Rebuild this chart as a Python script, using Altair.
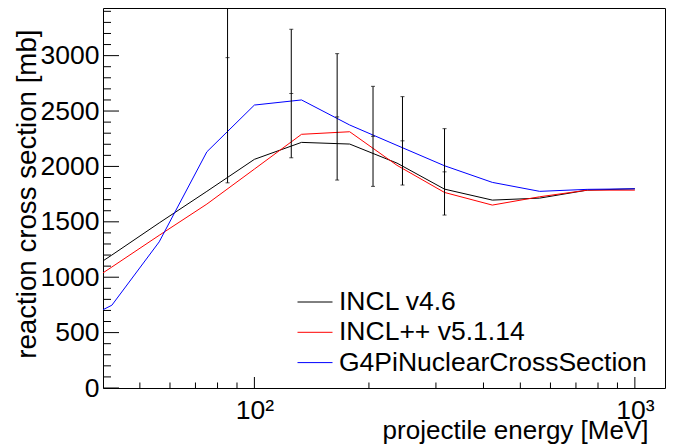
import altair as alt
import pandas as pd

# ---- data ----
energy = [31.6, 42.2, 56.2, 75.0, 100, 133, 178, 237, 316, 422, 562, 750, 1000]
incl46 = [915, 1200, 1490, 1775, 2064, 2217, 2202, 2030, 1795, 1696, 1714, 1786, 1798]
inclpp = [807, 1092, 1378, 1660, 1976, 2290, 2313, 2010, 1765, 1651, 1726, 1786, 1786]
g4pi = [530, 747, 1319, 2132, 2554, 2600, 2374, 2190, 2006, 1856, 1775, 1793, 1798]
models = ["INCL v4.6", "INCL++ v5.1.14", "G4PiNuclearCrossSection"]
colors = ["#000000", "#ff0000", "#0000ff"]

exp_energy = [85, 125, 165, 205, 245, 316]
exp_value = [2982, 2658, 2447, 2272, 2231, 1951]
exp_low = [1852, 2078, 1877, 1820, 1832, 1561]
exp_high = [4112, 3238, 3018, 2723, 2630, 2341]

x_major = [100, 1000]
x_minor = [50, 60, 70, 80, 90, 200, 300, 400, 500, 600, 700, 800, 900]
y_major = [0, 500, 1000, 1500, 2000, 2500, 3000]
y_minor = [v for v in range(100, 3500, 100) if v % 500 != 0]

X_TITLE = "projectile energy [MeV]"
Y_TITLE = "reaction cross section [mb]"

FONT = "Liberation Sans"
FS = 26.5
W, H = 562, 380

rows = []
for name, vals in zip(models, [incl46, inclpp, g4pi]):
    for i, (e, v) in enumerate(zip(energy, vals)):
        rows.append({"energy": e, "value": v, "model": name, "idx": i})
lines_df = pd.DataFrame(rows)
exp_df = pd.DataFrame({"energy": exp_energy, "value": exp_value,
                       "low": exp_low, "high": exp_high})

xscale = alt.Scale(type="log", domain=[40, 1200], nice=False)
yscale = alt.Scale(domain=[0, 3430], nice=False, zero=False)

x_axis = alt.Axis(values=x_major,
                  labelExpr="datum.value == 100 ? '10²' : '10³'",
                  labelFont=FONT, labelFontSize=FS, labelColor="#000",
                  labelBaseline="alphabetic", labelPadding=30,
                  labelFlush=False, labelOverlap=False, labelBound=False,
                  ticks=False, tickSize=0, domain=False, grid=False,
                  titleFont=FONT, titleFontSize=26, titleFontWeight="normal",
                  titleColor="#000", titleAlign="right",
                  titleBaseline="alphabetic", titleX=545, titleY=50)
y_axis = alt.Axis(values=y_major, format="d",
                  labelFont=FONT, labelFontSize=FS, labelColor="#000",
                  labelBaseline="middle", labelAlign="right", labelPadding=4,
                  labelFlush=False, labelOverlap=False, labelBound=False,
                  ticks=False, tickSize=0, domain=False, grid=False,
                  titleFont=FONT, titleFontSize=27.7, titleFontWeight="normal",
                  titleColor="#000", titleAngle=270, titleAlign="right",
                  titleBaseline="alphabetic", titleX=-68, titleY=21)


def X(field):
    return alt.X(field, scale=xscale, axis=x_axis, title=X_TITLE)


def Y(field):
    return alt.Y(field, scale=yscale, axis=y_axis, title=Y_TITLE)


lines = alt.Chart(lines_df).mark_line(strokeWidth=1, clip=True).encode(
    x=X("energy:Q"),
    y=Y("value:Q"),
    color=alt.Color("model:N", sort=models,
                    scale=alt.Scale(domain=models, range=colors),
                    legend=alt.Legend(orient="none", legendX=194, legendY=281,
                                      title=None, symbolType="stroke",
                                      symbolSize=1225, symbolStrokeWidth=1,
                                      clipHeight=26, rowPadding=3.3, padding=0,
                                      labelFont=FONT, labelFontSize=FS,
                                      labelColor="#000", labelOffset=6,
                                      labelLimit=0, labelBaseline="middle")),
    order=alt.Order("idx:Q"),
)

bars = alt.Chart(exp_df).mark_rule(color="#000", strokeWidth=1, clip=True).encode(
    x=X("energy:Q"),
    y=Y("low:Q"),
    y2="high:Q",
)


def caps(field):
    return alt.Chart(exp_df).mark_tick(color="#000", orient="horizontal", size=4,
                                       thickness=1, clip=True).encode(
        x=X("energy:Q"), y=Y(field))


def xticks(vals, length):
    return alt.Chart(pd.DataFrame({"t": vals})).mark_rule(color="#000", strokeWidth=1).encode(
        x=X("t:Q"), y=alt.value(H), y2=alt.value(H - length))


def yticks(vals, length):
    return alt.Chart(pd.DataFrame({"t": vals})).mark_rule(color="#000", strokeWidth=1).encode(
        y=Y("t:Q"), x=alt.value(0), x2=alt.value(length))


chart = alt.layer(
    lines, bars, caps("low:Q"), caps("high:Q"), caps("value:Q"),
    xticks(x_major, 11), xticks(x_minor, 5.5),
    yticks(y_major, 16), yticks(y_minor, 8),
).properties(
    width=W, height=H,
    autosize=alt.AutoSizeParams(type="none"),
    padding={"left": 95, "top": 0, "right": 1, "bottom": 57},
    background="white",
).configure_view(stroke="#000", strokeWidth=1)

chart.save("out.html", embed_options={"renderer": "svg", "actions": False})
